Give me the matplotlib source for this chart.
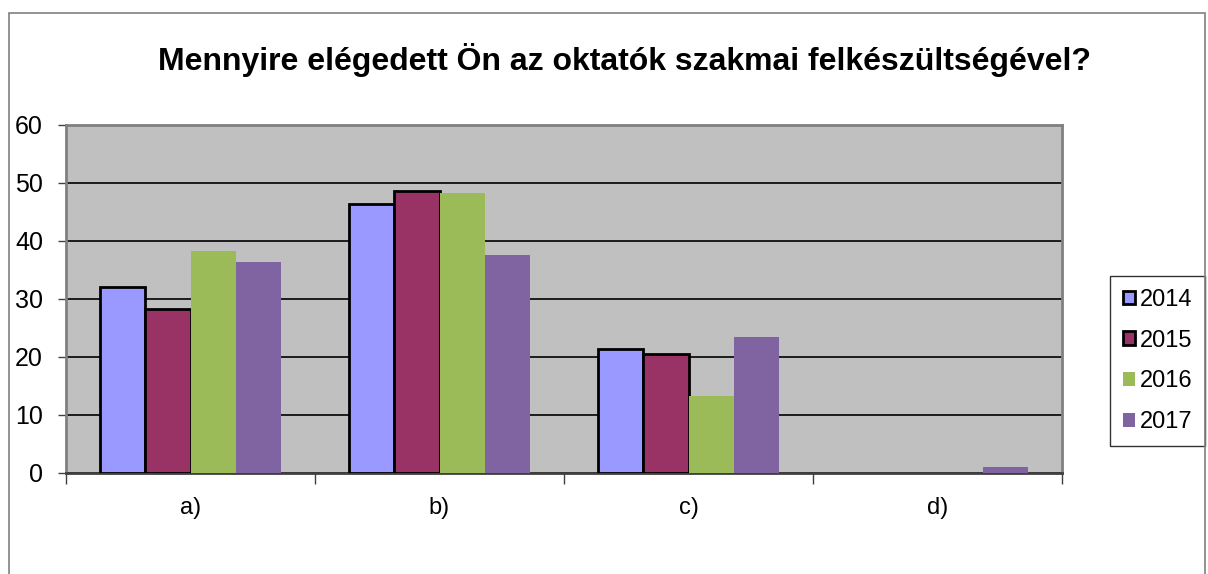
import numpy as np
import matplotlib.pyplot as plt
from matplotlib.patches import Rectangle

categories = ["a)", "b)", "c)", "d)"]
years = ["2014", "2015", "2016", "2017"]
v2014 = [32.1, 46.4, 21.4, 0]
v2015 = [28.3, 48.7, 20.5, 0]
v2016 = [38.3, 48.3, 13.2, 0]
v2017 = [36.4, 37.6, 23.4, 1.0]

colors = ["#9999FF", "#993366", "#9BBB59", "#8064A2"]
edges = ["black", "black", "none", "none"]

plt.rcParams["font.family"] = ["Liberation Sans", "DejaVu Sans"]

fig = plt.figure(figsize=(12.08, 5.74), dpi=100)
ax = fig.add_axes([66 / 1208, 101 / 574, 996 / 1208, 348 / 574])
ax.set_facecolor("#C0C0C0")

# outer chart frame
fig.patches.append(Rectangle((9 / 1208, -0.2), 1196 / 1208, 1.2 - 13 / 574,
                             transform=fig.transFigure, fill=False,
                             edgecolor="#808080", lw=1.2, zorder=0))

x = np.arange(len(categories))
w = 1 / 5.5
series = [v2014, v2015, v2016, v2017]
for i, vals in enumerate(series):
    bars = ax.bar(x + (i - 1.5) * w, vals, w, color=colors[i], edgecolor=edges[i],
                  linewidth=2 if edges[i] != "none" else 0, label=years[i], zorder=3)
    for b, v in zip(bars, vals):
        if v == 0:
            b.set_visible(False)

ax.set_ylim(0, 60)
ax.set_xlim(-0.5, 3.5)
ax.set_yticks(range(0, 61, 10))
ax.yaxis.grid(True, color="black", lw=1.2, zorder=1)
ax.set_axisbelow(True)
ax.tick_params(axis="y", labelsize=18, direction="out", length=6, width=1, color="#404040", pad=10.5)
ax.set_xticks(x)
ax.set_xticklabels(categories, fontsize=17)
ax.tick_params(axis="x", length=0, pad=17)
ax.set_xticks(np.arange(-0.5, 4, 1), minor=True)
ax.tick_params(axis="x", which="minor", length=8, width=1, color="#404040")
for s in ["top", "right", "left"]:
    ax.spines[s].set_color("#808080")
    ax.spines[s].set_linewidth(2)
ax.spines["bottom"].set_color("#404040")
ax.spines["bottom"].set_linewidth(2)

fig.text(625 / 1208, 1 - 60 / 574, "Mennyire elégedett Ön az oktatók szakmai felkészültségével?",
         ha="center", va="center", fontsize=23, fontweight="bold")

leg = ax.legend(loc="center left", bbox_to_anchor=(1110 / 1208, 1 - 361 / 574),
                bbox_transform=fig.transFigure, fontsize=17, frameon=True,
                fancybox=False, handlelength=0.5, handleheight=0.5,
                handletextpad=0.2, labelspacing=0.8, borderpad=0.55,
                borderaxespad=0)
leg.get_frame().set_edgecolor("black")
leg.get_frame().set_linewidth(1)

plt.savefig("out.png", dpi=100)
